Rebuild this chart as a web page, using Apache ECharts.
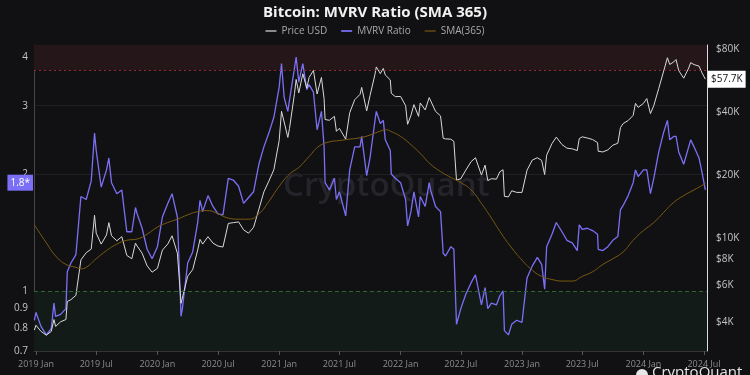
<!DOCTYPE html>
<html>
<head>
<meta charset="utf-8">
<script src="https://cdn.jsdelivr.net/npm/echarts@6/dist/echarts.min.js"></script>
<style>
  html, body { margin: 0; padding: 0; background: #111114; }
  #main { width: 750px; height: 375px; }
</style>
</head>
<body>
<div id="main"></div>
<script>
// sample dates shared by price and MVRV
const dates = [
  '2018-12-27','2019-01-01','2019-01-16','2019-02-01','2019-02-16','2019-02-24','2019-03-01','2019-03-16','2019-04-01','2019-04-05','2019-04-16','2019-05-01','2019-05-16','2019-06-01','2019-06-16','2019-06-26','2019-07-01','2019-07-16','2019-08-01','2019-08-08','2019-08-16','2019-09-01','2019-09-16','2019-10-01','2019-10-16','2019-10-27','2019-11-01','2019-11-16','2019-12-01','2019-12-16',
  '2020-01-01','2020-01-16','2020-02-01','2020-02-14','2020-03-01','2020-03-12','2020-03-16','2020-04-01','2020-04-16','2020-05-01','2020-05-08','2020-05-16','2020-06-01','2020-06-16','2020-07-01','2020-07-16','2020-08-01','2020-08-16','2020-09-01','2020-09-16','2020-10-01','2020-10-16','2020-11-01','2020-11-16','2020-12-01','2020-12-16',
  '2021-01-01','2021-01-08','2021-01-16','2021-01-27','2021-02-01','2021-02-16','2021-02-21','2021-03-01','2021-03-13','2021-03-25','2021-04-01','2021-04-14','2021-04-25','2021-05-08','2021-05-16','2021-05-19','2021-06-01','2021-06-16','2021-06-22','2021-07-01','2021-07-20','2021-08-01','2021-08-16','2021-09-01','2021-09-06','2021-09-21','2021-10-01','2021-10-16','2021-10-20','2021-11-01','2021-11-10','2021-11-16','2021-12-01','2021-12-04','2021-12-16',
  '2022-01-01','2022-01-16','2022-01-22','2022-02-01','2022-02-10','2022-02-24','2022-03-01','2022-03-16','2022-03-28','2022-04-01','2022-04-16','2022-05-01','2022-05-09','2022-05-16','2022-06-01','2022-06-10','2022-06-18','2022-07-01','2022-07-16','2022-08-01','2022-08-14','2022-09-01','2022-09-12','2022-09-20','2022-10-01','2022-10-16','2022-10-26','2022-11-05','2022-11-09','2022-11-21','2022-12-01','2022-12-16',
  '2023-01-01','2023-01-16','2023-02-01','2023-02-16','2023-03-01','2023-03-10','2023-03-16','2023-04-01','2023-04-14','2023-05-01','2023-05-16','2023-06-01','2023-06-16','2023-06-22','2023-07-01','2023-07-16','2023-08-01','2023-08-16','2023-08-18','2023-09-01','2023-09-16','2023-10-01','2023-10-16','2023-10-24','2023-11-01','2023-11-16','2023-12-01','2023-12-08','2023-12-16',
  '2024-01-01','2024-01-11','2024-01-22','2024-02-01','2024-02-16','2024-03-01','2024-03-13','2024-03-20','2024-04-01','2024-04-08','2024-04-16','2024-05-01','2024-05-16','2024-05-22','2024-06-01','2024-06-16','2024-06-25','2024-07-01','2024-07-05'
];
const priceUsd = [
  3650,3850,3600,3450,3600,4100,3800,4000,4100,5000,5100,5350,7900,8550,8900,12900,10600,9400,10400,11900,10300,9750,10200,8300,8000,9500,9200,8500,7400,6900,
  7200,8800,9400,10300,8500,4900,5000,6600,7100,8800,9900,9400,10200,9500,9200,9100,11800,11900,12000,11000,10600,11300,13800,16700,18800,21300,
  29400,40500,36000,30400,33500,49200,57500,49600,61200,52300,58800,63500,49000,58800,46500,37000,36700,38300,32500,33600,29800,39900,46000,48800,52700,40700,48100,60900,66000,61300,64900,60400,57200,49400,47600,
  47700,43100,35100,38700,43600,38300,44400,41100,47100,46300,40500,38500,30100,29900,29800,29100,19000,19300,21200,23300,24300,20100,22400,18900,19300,19200,20800,21300,15900,15800,16900,16600,
  16600,21200,23700,24300,23600,20200,25000,28400,30500,28100,27000,26800,26300,30000,30600,30200,29700,28700,26100,25900,26500,27900,28500,33900,35400,36600,38700,44200,42300,
  44200,46600,39500,43100,52100,62400,73000,67800,69700,71600,63400,58300,65200,69200,67700,66600,61800,62900,57700
];
const mvrv = [
  0.84,0.88,0.81,0.77,0.80,0.93,0.86,0.87,0.90,1.12,1.18,1.24,1.75,1.72,1.92,2.55,2.30,1.85,2.05,2.20,1.90,1.78,1.82,1.42,1.42,1.64,1.58,1.45,1.28,1.21,
  1.30,1.55,1.68,1.78,1.55,0.86,0.90,1.18,1.26,1.50,1.71,1.60,1.76,1.65,1.58,1.57,1.95,1.93,1.86,1.68,1.74,1.80,2.12,2.35,2.55,2.80,
  3.35,3.85,3.15,2.90,3.10,3.75,4.00,3.45,3.85,3.30,3.40,3.25,2.60,2.90,2.35,1.90,1.82,1.95,1.72,1.80,1.56,2.05,2.35,2.35,2.50,1.98,2.20,2.75,2.90,2.70,2.75,2.45,2.30,2.00,1.95,
  1.90,1.72,1.47,1.60,1.80,1.55,1.75,1.65,1.90,1.82,1.65,1.60,1.25,1.23,1.30,1.28,0.82,0.90,0.98,1.05,1.10,0.92,1.02,0.90,0.93,0.92,0.97,1.00,0.79,0.77,0.82,0.84,
  0.83,1.08,1.16,1.22,1.17,1.01,1.30,1.40,1.50,1.42,1.35,1.33,1.27,1.48,1.44,1.45,1.43,1.40,1.28,1.27,1.30,1.35,1.38,1.62,1.66,1.76,1.90,2.05,1.97,
  2.05,2.05,1.78,1.95,2.28,2.55,2.75,2.45,2.50,2.50,2.28,2.12,2.35,2.45,2.35,2.20,2.02,2.00,1.82
];
const smaDates = [
  '2018-12-27','2019-02-01','2019-03-01','2019-04-01','2019-05-01','2019-05-16','2019-06-01','2019-07-01','2019-08-01','2019-09-01','2019-10-01','2019-11-01','2019-12-01',
  '2020-01-01','2020-02-01','2020-03-01','2020-04-01','2020-05-01','2020-06-01','2020-07-01','2020-08-01','2020-09-01','2020-10-01','2020-11-01','2020-12-01',
  '2021-01-01','2021-02-01','2021-03-01','2021-04-01','2021-05-01','2021-06-01','2021-07-01','2021-08-01','2021-09-01','2021-10-01','2021-11-01','2021-11-20','2021-12-01',
  '2022-01-01','2022-02-01','2022-03-01','2022-04-01','2022-05-01','2022-06-01','2022-07-01','2022-08-01','2022-09-01','2022-10-01','2022-11-01','2022-12-01',
  '2023-01-01','2023-02-01','2023-03-01','2023-04-01','2023-05-01','2023-06-01','2023-07-01','2023-08-01','2023-09-01','2023-10-01','2023-11-01','2023-12-01',
  '2024-01-01','2024-02-01','2024-03-01','2024-04-01','2024-05-01','2024-06-01','2024-07-05'
];
const sma365 = [
  1.48,1.33,1.23,1.17,1.15,1.14,1.15,1.21,1.27,1.32,1.35,1.36,1.40,
  1.46,1.50,1.53,1.57,1.60,1.61,1.58,1.54,1.53,1.53,1.58,1.70,
  1.86,2.00,2.08,2.22,2.36,2.42,2.44,2.46,2.48,2.52,2.58,2.60,2.58,
  2.50,2.38,2.26,2.12,2.03,1.96,1.90,1.82,1.68,1.54,1.40,1.29,
  1.20,1.13,1.09,1.07,1.06,1.06,1.09,1.12,1.17,1.21,1.26,1.35,
  1.43,1.50,1.59,1.69,1.76,1.82,1.89
];
const mvrvTicks = [0.7, 0.8, 0.9, 1, 2, 3, 4];
const priceTicks = [4000, 6000, 8000, 10000, 20000, 40000, 80000];
const monthTicks = ['2019-01-01','2019-07-01','2020-01-01','2020-07-01','2021-01-01','2021-07-01',
  '2022-01-01','2022-07-01','2023-01-01','2023-07-01','2024-01-01','2024-07-01'];

const ts = s => new Date(s + 'T00:00:00Z').getTime();
const pair = (d, v) => d.map((x, i) => [ts(x), v[i]]);
const FONT = 'Open Sans';

const chart = echarts.init(document.getElementById('main'));
const option = {
  backgroundColor: '#111114',
  animation: false,
  textStyle: { fontFamily: FONT },
  title: {
    text: 'Bitcoin: MVRV Ratio (SMA 365)',
    left: 'center', top: 0,
    textStyle: { color: '#f2f2f2', fontSize: 15, fontWeight: 'bold', fontFamily: FONT }
  },
  legend: {
    top: 21, left: 'center',
    icon: 'rect', itemWidth: 11, itemHeight: 2, itemGap: 14,
    textStyle: { color: '#a8a8a8', fontSize: 10, fontFamily: FONT },
    data: ['Price USD', 'MVRV Ratio', 'SMA(365)']
  },
  grid: { left: 34, right: 43, top: 45, bottom: 24 },
  xAxis: {
    type: 'value',
    min: ts('2018-12-26'), max: ts('2024-07-10'),
    axisLine: { lineStyle: { color: '#333338' } },
    axisTick: { show: true, length: 4, lineStyle: { color: '#555' }, customValues: monthTicks.map(ts) },
    axisLabel: {
      color: '#8c8c8c', fontSize: 9, margin: 9,
      customValues: monthTicks.map(ts),
      formatter: v => { const d = new Date(v); return d.getUTCFullYear() + ' ' + (d.getUTCMonth() < 6 ? 'Jan' : 'Jul'); }
    },
    splitLine: { show: false }
  },
  yAxis: [
    {
      type: 'log', logBase: 10, min: 0.7, max: 4.3,
      axisLine: { show: true, lineStyle: { color: '#45454c' } },
      axisTick: { show: false, customValues: mvrvTicks },
      axisLabel: { color: '#c4c4c4', fontSize: 10, margin: 6, customValues: mvrvTicks,
        formatter: v => String(+(+v).toFixed(1)) },
      splitLine: { show: true, lineStyle: { color: '#202024', width: 1 } }
    },
    {
      type: 'log', logBase: 10, min: 2900, max: 84000, position: 'right',
      axisLine: { show: true, lineStyle: { color: '#dcdcdc' } },
      axisTick: { show: false, customValues: priceTicks },
      axisLabel: { color: '#c4c4c4', fontSize: 10, margin: 9, customValues: priceTicks,
        formatter: v => '$' + Math.round(v / 1000) + 'K' },
      splitLine: { show: false }
    }
  ],
  graphic: [
    { type: 'text', left: 283, top: 170, z: 0, silent: true,
      style: { text: 'CryptoQuant', fill: '#24242a', font: '600 33px "Open Sans"' } },
    { type: 'circle', shape: { cx: 642, cy: 375, r: 6 }, style: { fill: '#e6e6e6' }, silent: true },
    { type: 'text', left: 652, top: 365, silent: true,
      style: { text: 'CryptoQuant', fill: '#e6e6e6', font: '15px "Open Sans"' } }
  ],
  series: [
    {
      name: 'MVRV Ratio', type: 'line', yAxisIndex: 0, showSymbol: false,
      data: pair(dates, mvrv),
      lineStyle: { color: '#7b70f5', width: 1.3 }, itemStyle: { color: '#6d63d8' },
      z: 3,
      markArea: {
        silent: true,
        data: [
          [{ yAxis: 3.7, itemStyle: { color: '#251619' } }, { yAxis: 4.3 }],
          [{ yAxis: 0.7, itemStyle: { color: '#131b19' } }, { yAxis: 1 }]
        ]
      },
      markLine: {
        silent: true, symbol: 'none',
        data: [
          { yAxis: 3.7, lineStyle: { color: '#8e2c2e', type: [2, 3], width: 1 }, label: { show: false } },
          { yAxis: 1, lineStyle: { color: '#2e682e', type: [4, 3], width: 1 }, label: { show: false } },
          { yAxis: 1.9, lineStyle: { color: 'rgba(0,0,0,0)' },
            label: { show: true, position: 'start', distance: 1, formatter: '1.8*', color: '#fff',
              backgroundColor: '#7b70f5', padding: [3, 3, 3, 3], fontSize: 10 } }
        ]
      }
    },
    {
      name: 'Price USD', type: 'line', yAxisIndex: 1, showSymbol: false,
      data: pair(dates, priceUsd),
      lineStyle: { color: '#d9d9d9', width: 1 }, itemStyle: { color: '#8a8a8a' },
      z: 4,
      markLine: {
        silent: true, symbol: 'none',
        data: [
          { yAxis: 57700, lineStyle: { color: 'rgba(0,0,0,0)' },
            label: { show: true, position: 'end', distance: 1, formatter: '$57.7K', color: '#111',
              backgroundColor: '#ffffff', padding: [4, 3, 3, 3], fontSize: 10 } }
        ]
      }
    },
    {
      name: 'SMA(365)', type: 'line', yAxisIndex: 0, showSymbol: false, smooth: true,
      data: pair(smaDates, sma365),
      lineStyle: { color: '#7a5a12', width: 1 }, itemStyle: { color: '#4e3b10' },
      z: 5
    }
  ]
};
chart.setOption(option);
</script>
</body>
</html>
